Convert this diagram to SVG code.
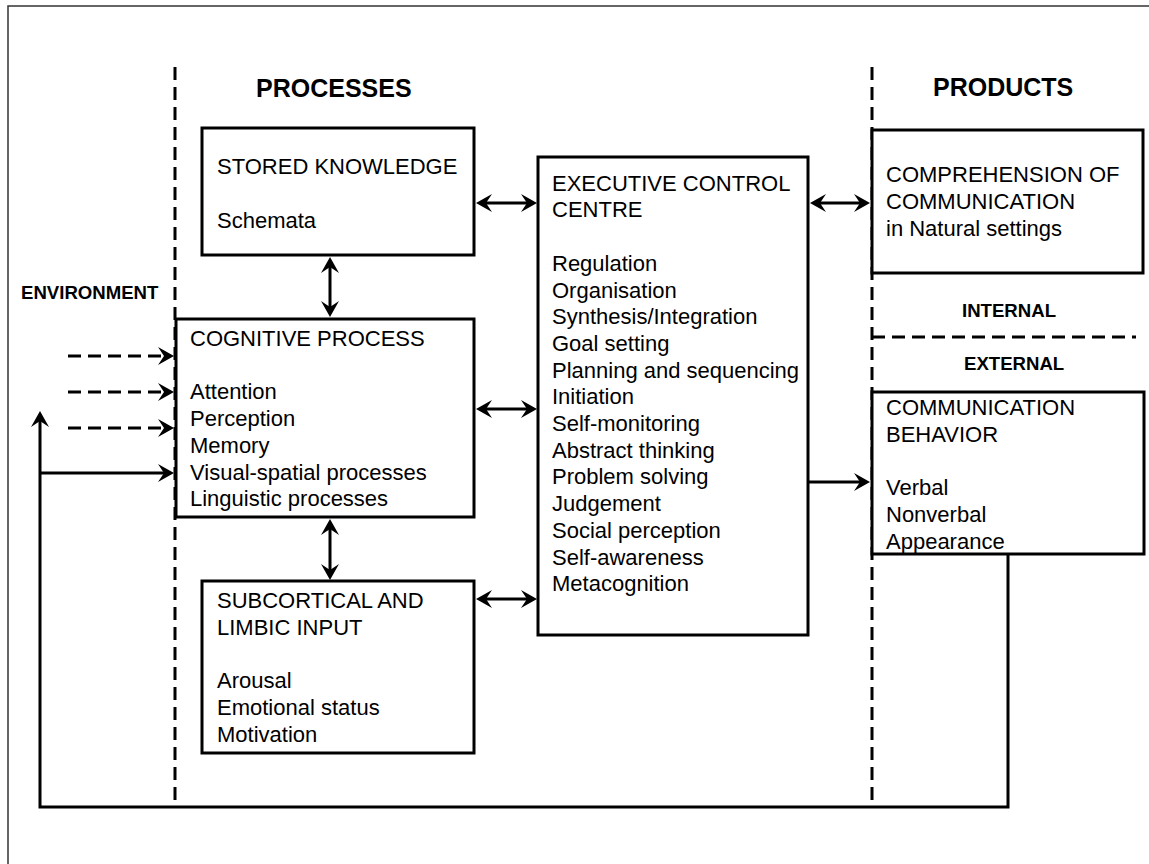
<svg xmlns="http://www.w3.org/2000/svg" width="1149" height="864" viewBox="0 0 1149 864">
  <style>
    .box { fill: #ffffff; stroke: #000; stroke-width: 3; }
    .txt { font-family: "Liberation Sans", Arial, sans-serif; font-size: 22px; fill: #000; }
    .head { font-family: "Liberation Sans", Arial, sans-serif; font-weight: bold; font-size: 25px; fill: #000; }
    .lbl { font-family: "Liberation Sans", Arial, sans-serif; font-weight: bold; font-size: 18.6px; fill: #000; }
    .link { fill: none; stroke: #000; stroke-width: 3; }
    .dash { fill: none; stroke: #000; stroke-width: 3; stroke-dasharray: 13 7; }
    .darr { fill: none; stroke: #000; stroke-width: 3; stroke-dasharray: 13 7; }
  </style>
  <defs>
    <marker id="arrow" markerUnits="userSpaceOnUse" viewBox="0 0 16 18" refX="9" refY="9" markerWidth="16" markerHeight="18" orient="auto-start-reverse">
      <path d="M0,0 L16,9 L0,18 L6,9 Z" fill="#000"/>
    </marker>
  </defs>

  <rect width="1149" height="864" fill="#ffffff"/>
  <!-- page frame -->
  <path d="M8,864 V6 H1149" fill="none" stroke="#333" stroke-width="1.5"/>

  <!-- region dividers -->
  <g id="dividers">
    <line class="dash" x1="175" y1="67" x2="175" y2="807"/>
    <line class="dash" x1="872" y1="67" x2="872" y2="807"/>
    <line class="dash" x1="872" y1="337" x2="1136" y2="337"/>
  </g>

  <!-- section labels -->
  <g id="labels">
    <text class="head" x="256" y="97">PROCESSES</text>
    <text class="head" x="933" y="96">PRODUCTS</text>
    <text class="lbl" x="21" y="299">ENVIRONMENT</text>
    <text class="lbl" x="962" y="317">INTERNAL</text>
    <text class="lbl" x="964" y="370">EXTERNAL</text>
  </g>

  <g id="connectors">
    <!-- horizontal two-way links -->
    <line class="link" x1="483" y1="203" x2="530" y2="203" marker-start="url(#arrow)" marker-end="url(#arrow)"/>
    <line class="link" x1="483" y1="409" x2="530" y2="409" marker-start="url(#arrow)" marker-end="url(#arrow)"/>
    <line class="link" x1="483" y1="599" x2="530" y2="599" marker-start="url(#arrow)" marker-end="url(#arrow)"/>
    <line class="link" x1="817" y1="203" x2="863" y2="203" marker-start="url(#arrow)" marker-end="url(#arrow)"/>
    <!-- executive control to behaviour -->
    <line class="link" x1="808" y1="482" x2="863" y2="482" marker-end="url(#arrow)"/>
    <!-- vertical two-way links -->
    <line class="link" x1="330" y1="264" x2="330" y2="310" marker-start="url(#arrow)" marker-end="url(#arrow)"/>
    <line class="link" x1="330" y1="526" x2="330" y2="573" marker-start="url(#arrow)" marker-end="url(#arrow)"/>
    <!-- environmental inputs -->
    <line class="darr" x1="68" y1="356" x2="167" y2="356" marker-end="url(#arrow)"/>
    <line class="darr" x1="68" y1="392" x2="167" y2="392" marker-end="url(#arrow)"/>
    <line class="darr" x1="68" y1="428" x2="167" y2="428" marker-end="url(#arrow)"/>
    <!-- feedback loop -->
    <polyline class="link" points="1008,555 1008,807 40,807 40,418" marker-end="url(#arrow)"/>
    <line class="link" x1="40" y1="473" x2="167" y2="473" marker-end="url(#arrow)"/>
  </g>

  <g id="stored-knowledge">
    <rect class="box" x="202" y="128" width="272" height="127"/>
    <text class="txt" x="217" y="174">STORED KNOWLEDGE</text>
    <text class="txt" x="217" y="227.5">Schemata</text>
  </g>

  <g id="cognitive-process">
    <rect class="box" x="176" y="319" width="298" height="198"/>
    <text class="txt" x="190" y="346">COGNITIVE PROCESS</text>
    <text class="txt" x="190" y="399.4">Attention</text>
    <text class="txt" x="190" y="426.1">Perception</text>
    <text class="txt" x="190" y="452.8">Memory</text>
    <text class="txt" x="190" y="479.5">Visual-spatial processes</text>
    <text class="txt" x="190" y="506.2">Linguistic processes</text>
  </g>

  <g id="subcortical-limbic">
    <rect class="box" x="202" y="581" width="272" height="172"/>
    <text class="txt" x="217" y="608.3">SUBCORTICAL AND</text>
    <text class="txt" x="217" y="635">LIMBIC INPUT</text>
    <text class="txt" x="217" y="688.4">Arousal</text>
    <text class="txt" x="217" y="715.1">Emotional status</text>
    <text class="txt" x="217" y="741.8">Motivation</text>
  </g>

  <g id="executive-control">
    <rect class="box" x="538" y="157" width="270" height="478"/>
    <text class="txt" x="552" y="190.7">EXECUTIVE CONTROL</text>
    <text class="txt" x="552" y="217.4">CENTRE</text>
    <text class="txt" x="552" y="270.8">Regulation</text>
    <text class="txt" x="552" y="297.5">Organisation</text>
    <text class="txt" x="552" y="324.2">Synthesis/Integration</text>
    <text class="txt" x="552" y="350.9">Goal setting</text>
    <text class="txt" x="552" y="377.6">Planning and sequencing</text>
    <text class="txt" x="552" y="404.3">Initiation</text>
    <text class="txt" x="552" y="431">Self-monitoring</text>
    <text class="txt" x="552" y="457.7">Abstract thinking</text>
    <text class="txt" x="552" y="484.4">Problem solving</text>
    <text class="txt" x="552" y="511.1">Judgement</text>
    <text class="txt" x="552" y="537.8">Social perception</text>
    <text class="txt" x="552" y="564.5">Self-awareness</text>
    <text class="txt" x="552" y="591.2">Metacognition</text>
  </g>

  <g id="comprehension">
    <rect class="box" x="872" y="130" width="271" height="143"/>
    <text class="txt" x="886" y="182.3">COMPREHENSION OF</text>
    <text class="txt" x="886" y="209">COMMUNICATION</text>
    <text class="txt" x="886" y="235.7">in Natural settings</text>
  </g>

  <g id="communication-behavior">
    <rect class="box" x="872" y="392" width="272" height="162"/>
    <text class="txt" x="886" y="415">COMMUNICATION</text>
    <text class="txt" x="886" y="441.7">BEHAVIOR</text>
    <text class="txt" x="886" y="495.1">Verbal</text>
    <text class="txt" x="886" y="521.8">Nonverbal</text>
    <text class="txt" x="886" y="548.5">Appearance</text>
  </g>
</svg>
